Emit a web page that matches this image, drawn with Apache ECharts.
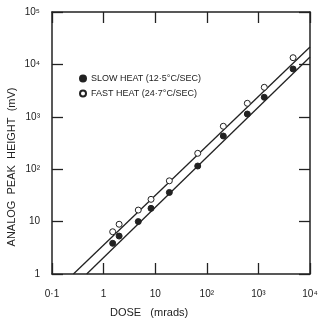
<!DOCTYPE html>
<html>
<head>
<meta charset="utf-8">
<script src="https://cdn.jsdelivr.net/npm/echarts@6/dist/echarts.min.js"></script>
<style>
html,body{margin:0;padding:0;background:#fff;}
#c{width:321px;height:320px;}
</style>
</head>
<body>
<div id="c"></div>
<script>
// ---- data ----
var xTickLabels = ['0·1', '1', '10', '10²', '10³', '10⁴'];
var yTickLabels = ['1', '10', '10²', '10³', '10⁴', '10⁵'];
var doses = [1.5, 2.0, 4.7, 8.3, 18.8, 66.7, 209, 610, 1300, 4700];
var slowHeat = [3.85, 5.3, 10, 17.9, 36, 115, 430, 1130, 2355, 8170];
var fastHeat = [6.4, 8.9, 16.6, 26.6, 60, 201, 660, 1811, 3656, 13430];
var slowFitX = [0.47, 10000];
var slowFitY = [1, 13800];
var fastFitX = [0.26, 10000];
var fastFitY = [1, 21500];
var seriesNames = ['SLOW HEAT (12·5°C/SEC)', 'FAST HEAT (24·7°C/SEC)'];

function pairs(xs, ys) { return xs.map(function (x, i) { return [x, ys[i]]; }); }
function lbl(arr, base) {
  return function (v) {
    var i = Math.round(Math.log10(v)) - base;
    return arr[i] !== undefined ? arr[i] : '';
  };
}
var ink = '#222';
var font = 'Liberation Sans';
var axisLine = { show: true, lineStyle: { color: ink, width: 1.5 } };
var tickIn = { show: true, inside: true, length: 11, lineStyle: { color: ink, width: 1.3 } };

var chart = echarts.init(document.getElementById('c'), null, { renderer: 'canvas' });
chart.setOption({
  backgroundColor: '#fff',
  animation: false,
  grid: { left: 52, right: 11, top: 12, bottom: 46 },
  legend: {
    data: seriesNames,
    orient: 'vertical',
    left: 74,
    top: 69,
    itemGap: 6,
    itemWidth: 6,
    itemHeight: 6,
    textStyle: { fontFamily: font, fontSize: 9, color: ink }
  },
  xAxis: [{
    type: 'log', logBase: 10, min: 0.1, max: 10000,
    axisLine: axisLine, axisTick: tickIn, splitLine: { show: false },
    axisLabel: { formatter: lbl(xTickLabels, -1), margin: 15, fontFamily: font, fontSize: 10, color: ink }
  }, {
    type: 'log', logBase: 10, min: 0.1, max: 10000, position: 'top',
    axisLine: axisLine, axisTick: tickIn, splitLine: { show: false },
    axisLabel: { show: false }
  }],
  yAxis: [{
    type: 'log', logBase: 10, min: 1, max: 100000,
    axisLine: axisLine, axisTick: tickIn, splitLine: { show: false },
    axisLabel: { formatter: lbl(yTickLabels, 0), margin: 12, fontFamily: font, fontSize: 10, color: ink }
  }, {
    type: 'log', logBase: 10, min: 1, max: 100000, position: 'right',
    axisLine: axisLine, axisTick: tickIn, splitLine: { show: false },
    axisLabel: { show: false }
  }],
  graphic: [{
    type: 'text', left: 110, top: 307,
    style: { text: 'DOSE   (mrads)', font: '11px "Liberation Sans"', fill: ink }
  }, {
    type: 'text', x: 12, y: 167, rotation: Math.PI / 2,
    style: { text: 'ANALOG  PEAK  HEIGHT  (mV)', font: '11px "Liberation Sans"', fill: ink, align: 'center', verticalAlign: 'middle' }
  }],
  series: [{
    type: 'line', name: 'slowfit', data: pairs(slowFitX, slowFitY),
    symbol: 'none', lineStyle: { color: ink, width: 1.3 }, silent: true
  }, {
    type: 'line', name: 'fastfit', data: pairs(fastFitX, fastFitY),
    symbol: 'none', lineStyle: { color: ink, width: 1.3 }, silent: true
  }, {
    type: 'scatter', name: seriesNames[0], data: pairs(doses, slowHeat),
    symbol: 'circle', symbolSize: 6, z: 5,
    itemStyle: { color: ink, borderColor: ink, borderWidth: 1, opacity: 1 }
  }, {
    type: 'scatter', name: seriesNames[1], data: pairs(doses, fastHeat),
    symbol: 'circle', symbolSize: 6, z: 5,
    itemStyle: { color: '#fff', borderColor: ink, borderWidth: 1, opacity: 1 }
  }]
});
</script>
</body>
</html>
